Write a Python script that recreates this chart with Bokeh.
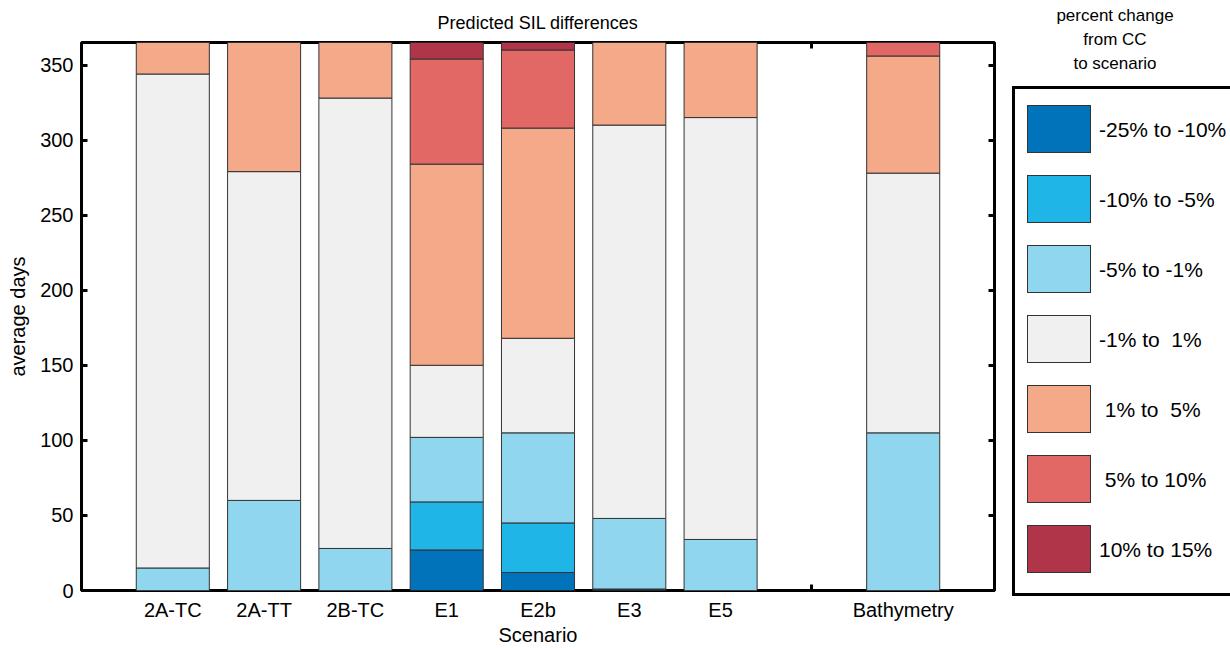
from bokeh.plotting import figure
from bokeh.layouts import row
from bokeh.models import (FactorRange, Range1d, LinearAxis, CategoricalAxis,
                          FixedTicker, ColumnDataSource, Div)
from bokeh.embed import file_html
from bokeh.resources import INLINE

# ---- data ----
scenarios = ["2A-TC", "2A-TT", "2B-TC", "E1", "E2b", "E3", "E5", "Bathymetry"]
axis_factors = ["2A-TC", "2A-TT", "2B-TC", "E1", "E2b", "E3", "E5", " ", "Bathymetry"]

classes = ["-25% to -10%", "-10% to -5%", "-5% to -1%", "-1% to  1%",
           " 1% to  5%", " 5% to 10%", "10% to 15%"]
d_m25_m10 = [0, 0, 0, 27, 12, 1, 0, 0]
d_m10_m5 = [0, 0, 0, 32, 33, 0, 0, 0]
d_m5_m1 = [15, 60, 28, 43, 60, 47, 34, 105]
d_m1_p1 = [329, 219, 300, 48, 63, 262, 281, 173]
d_p1_p5 = [21, 86, 37, 134, 140, 55, 50, 78]
d_p5_p10 = [0, 0, 0, 70, 52, 0, 0, 9]
d_p10_p15 = [0, 0, 0, 11, 5, 0, 0, 0]

y_ticks = [0, 50, 100, 150, 200, 250, 300, 350]
colors = ["#0173bb", "#1fb5e6", "#8fd6ee", "#f0f0f0", "#f4a988", "#e26866", "#b13548"]
legend_title = ["percent change", "from CC", "to scenario"]

FONT = "Liberation Sans"
EDGE = "#333333"

keys = ["a", "b", "c", "d", "e", "f", "g"]
source = ColumnDataSource(dict(cat=scenarios, a=d_m25_m10, b=d_m10_m5, c=d_m5_m1,
                               d=d_m1_p1, e=d_p1_p5, f=d_p5_p10, g=d_p10_p15))

p = figure(x_range=FactorRange(factors=axis_factors, range_padding=0.5,
                               range_padding_units="absolute"),
           y_range=Range1d(0, 365),
           frame_width=913, frame_height=548,
           min_border_left=81, min_border_right=6,
           min_border_top=42, min_border_bottom=58,
           output_backend="svg", toolbar_location=None,
           title="Predicted SIL differences")

p.title.align = "center"
p.title.text_font = FONT
p.title.text_font_size = "18px"
p.title.text_font_style = "normal"
p.title.text_color = "black"
p.title.standoff = 19

p.vbar_stack(keys, x="cat", width=0.8, color=colors, source=source,
             line_color=EDGE, line_width=1)

p.xgrid.visible = False
p.ygrid.visible = False
p.outline_line_color = "black"
p.outline_line_width = 3
p.outline_line_alpha = 1.0


def style_labels(ax):
    ax.axis_line_color = None
    ax.minor_tick_line_color = None
    ax.major_label_text_font = FONT
    ax.major_label_text_font_size = "20px"
    ax.major_label_text_color = "black"
    ax.axis_label_text_font = FONT
    ax.axis_label_text_font_size = "20px"
    ax.axis_label_text_font_style = "normal"
    ax.axis_label_text_color = "black"


def tick_only(ax):
    ax.level = "underlay"
    ax.axis_line_color = None
    ax.major_tick_in = 6
    ax.major_tick_out = 0
    ax.major_tick_line_width = 3
    ax.major_tick_line_color = "black"
    ax.minor_tick_line_color = None
    ax.major_label_text_font_size = "0px"
    ax.major_label_standoff = 0


# left axis
ya = p.yaxis[0]
ya.ticker = FixedTicker(ticks=y_ticks)
style_labels(ya)
ya.major_tick_in = 6
ya.major_tick_out = 0
ya.major_tick_line_width = 3
ya.major_tick_line_color = "black"
ya.major_label_standoff = 8
ya.axis_label = "average days"
ya.axis_label_standoff = 8

# bottom: labels without ticks + tick-only axis drawn beneath the bars
xa = p.xaxis[0]
style_labels(xa)
xa.major_tick_line_color = None
xa.major_tick_in = 0
xa.major_tick_out = 0
xa.major_label_standoff = 8
xa.axis_label = "Scenario"
xa.axis_label_standoff = 0
xt = CategoricalAxis()
tick_only(xt)
p.below = [xt, xa]

# mirrored axes (ticks only)
top = CategoricalAxis()
tick_only(top)
right = LinearAxis(ticker=FixedTicker(ticks=y_ticks))
tick_only(right)
right.level = "guide"
p.add_layout(top, "above")
p.add_layout(right, "right")

# ---- legend panel (HTML, built from the lists above) ----
rows_html = []
for i, (lab, col) in enumerate(zip(classes, colors)):
    top_px = 105 + 70 * i
    rows_html.append(
        f'<div style="position:absolute;left:27px;top:{top_px}px;width:64px;height:48px;'
        f'background:{col};border:1px solid {EDGE};"></div>'
        f'<div style="position:absolute;left:99px;top:{top_px}px;height:50px;line-height:50px;'
        f'font-size:21px;white-space:pre;">{lab}</div>')
title_html = "<br>".join(legend_title)
html = (
    f'<div style="position:relative;width:230px;height:648px;overflow:hidden;'
    f'font-family:\'{FONT}\';font-size:20px;color:black;">'
    f'<div style="position:absolute;left:0;top:4px;width:230px;text-align:center;'
    f'font-size:17px;line-height:24px;">{title_html}</div>'
    f'<div style="position:absolute;left:12px;top:86px;width:400px;height:510px;'
    f'border:3px solid black;box-sizing:border-box;background:white;"></div>'
    + "".join(rows_html) + '</div>')
leg = Div(text=html, width=230, height=648, margin=0)

layout = row(p, leg)
open("out.html", "w").write(file_html(layout, INLINE))
